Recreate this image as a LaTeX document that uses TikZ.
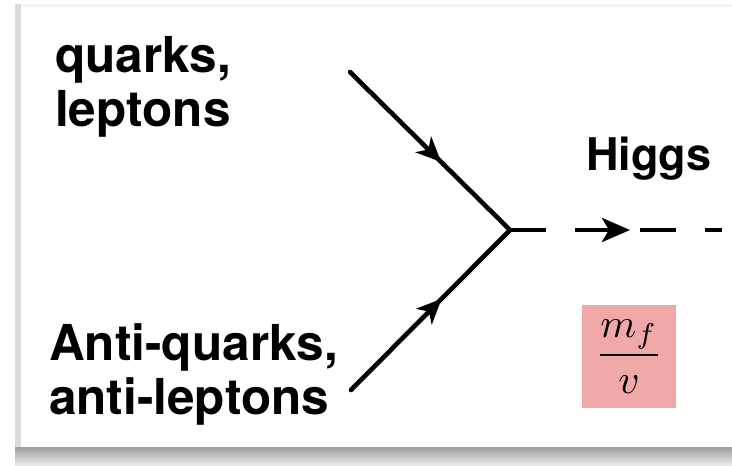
\documentclass[tikz,border=0pt]{standalone}
\usepackage{fontspec}
\setmainfont{TeX Gyre Heros}
\usetikzlibrary{arrows.meta,decorations.markings}
\definecolor{boxpink}{RGB}{240,168,168}
\definecolor{edgegray}{RGB}{218,218,218}
\tikzset{
  lbl/.style={font=\fontsize{49.5}{54}\selectfont\bfseries, inner sep=0pt, align=left},
  fermion/.style={line width=4.6pt, line cap=round,
    decoration={markings, mark=at position 0.57 with {\arrow{Stealth[length=25pt,width=22pt,inset=7pt]}}},
    postaction={decorate}},
  scalar/.style={line width=4.6pt, dash pattern=on 36pt off 29pt,
    decoration={markings, mark=at position 120pt with {\arrow{Stealth[length=28pt,width=24pt,inset=7pt]}}},
    postaction={decorate}},
  coupling/.style={fill=boxpink, minimum width=94pt, minimum height=103pt, inner sep=0pt}
}
\begin{document}
\begin{tikzpicture}[x=1pt,y=-1pt]
  \useasboundingbox (0,0) rectangle (732,466);
  \fill[white] (0,0) rectangle (732,466);
  % card frame and shadow
  \fill[top color=gray!75, bottom color=gray!15] (15,447) rectangle (732,466);
  \fill[edgegray] (15,4) rectangle (21,447);
  \fill[gray!8] (21,4) rectangle (732,7);
  % labels
  \node[lbl, anchor=north west] (ql) at (55,36.5) {quarks,\\leptons};
  \node[lbl, anchor=north west] (aql) at (49,323.5) {Anti-quarks,\\anti-leptons};
  \node[lbl, font=\fontsize{45}{54}\selectfont\bfseries, anchor=base west] (h) at (586,170) {Higgs};
  \node[coupling] (c) at (629,356.5) {\scalebox{4.1}{$\displaystyle\frac{m_f}{v}$}};
  % vertex and lines
  \coordinate (v) at (510,230);
  \coordinate (a) at (350,72);
  \coordinate (b) at (351,390);
  \coordinate (e) at (722,230);
  \draw[fermion] (a) -- (v);
  \draw[fermion] (b) -- (v);
  \draw[scalar] (v) -- (e);
\end{tikzpicture}
\end{document}
